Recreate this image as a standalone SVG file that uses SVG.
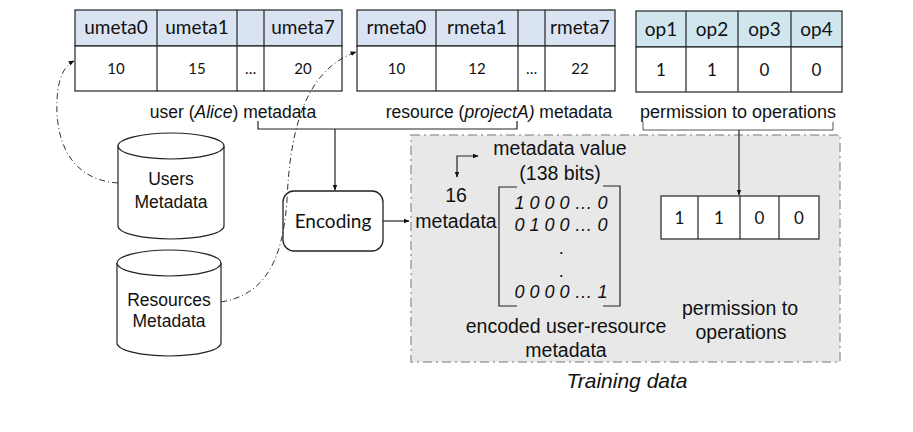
<svg xmlns="http://www.w3.org/2000/svg" width="913" height="432" viewBox="0 0 913 432">
<defs>
<marker id="ah" viewBox="0 0 10 10" refX="9" refY="5" markerWidth="6" markerHeight="6" orient="auto-start-reverse" markerUnits="userSpaceOnUse">
<path d="M0,1 L10,5 L0,9 z" fill="#111"/>
</marker>
</defs>
<style>
.cell{fill:#fff;stroke:#222;stroke-width:1.2}
.hu{fill:#dae3f1;stroke:#222;stroke-width:1.2}
.ho{fill:#cfe6ef;stroke:#222;stroke-width:1.2}
.g{font-family:Lato,"Open Sans",sans-serif;fill:#111;text-anchor:middle}
.s{font-family:"Liberation Sans",Arial,sans-serif;fill:#111;text-anchor:middle}
.ln{fill:none;stroke:#222;stroke-width:1.2}
.dd{fill:none;stroke:#333;stroke-width:1;stroke-dasharray:6 3 1 3}
.cyl{fill:#fff;stroke:#222;stroke-width:1.2}
</style>
<rect width="913" height="432" fill="#fff"/>

<g id="training-box">
<rect x="411" y="135" width="429" height="227" fill="#e8e8e8" stroke="#a0a0a0" stroke-width="1.5" stroke-dasharray="9 4 2 4"/>
<text class="s" x="627" y="388" font-size="21" font-style="italic">Training data</text>
</g>

<g id="user-table">
<rect class="hu" x="75" y="10" width="267" height="36"/>
<rect class="cell" x="75" y="46" width="267" height="45"/>
<line class="ln" x1="157" y1="10" x2="157" y2="91"/>
<line class="ln" x1="237" y1="10" x2="237" y2="91"/>
<line class="ln" x1="264" y1="10" x2="264" y2="91"/>
<text class="g" x="116" y="34" font-size="19">umeta0</text>
<text class="g" x="197" y="34" font-size="19">umeta1</text>
<text class="g" x="303" y="34" font-size="19">umeta7</text>
<text class="g" x="116" y="74" font-size="15">10</text>
<text class="g" x="197" y="74" font-size="15">15</text>
<text class="g" x="250.5" y="74" font-size="15">…</text>
<text class="g" x="303" y="74" font-size="15">20</text>
<text class="s" x="233" y="118" font-size="17.5">user (<tspan font-style="italic">Alice</tspan>) metadata</text>
</g>

<g id="resource-table">
<rect class="hu" x="357" y="10" width="258" height="36"/>
<rect class="cell" x="357" y="46" width="258" height="45"/>
<line class="ln" x1="436" y1="10" x2="436" y2="91"/>
<line class="ln" x1="518" y1="10" x2="518" y2="91"/>
<line class="ln" x1="545" y1="10" x2="545" y2="91"/>
<text class="g" x="396.5" y="34" font-size="19">rmeta0</text>
<text class="g" x="477" y="34" font-size="19">rmeta1</text>
<text class="g" x="580" y="34" font-size="19">rmeta7</text>
<text class="g" x="396.5" y="74" font-size="15">10</text>
<text class="g" x="477" y="74" font-size="15">12</text>
<text class="g" x="531.5" y="74" font-size="15">…</text>
<text class="g" x="580" y="74" font-size="15">22</text>
<text class="s" x="499" y="118" font-size="17.5">resource (<tspan font-style="italic">projectA)</tspan> metadata</text>
</g>

<g id="ops-table">
<rect class="ho" x="636" y="11" width="206" height="36"/>
<rect class="cell" x="636" y="47" width="206" height="45"/>
<line class="ln" x1="686" y1="11" x2="686" y2="92"/>
<line class="ln" x1="738" y1="11" x2="738" y2="92"/>
<line class="ln" x1="791" y1="11" x2="791" y2="92"/>
<text class="g" x="661" y="36" font-size="19">op1</text>
<text class="g" x="712" y="36" font-size="19">op2</text>
<text class="g" x="764.5" y="36" font-size="19">op3</text>
<text class="g" x="816.5" y="36" font-size="19">op4</text>
<text class="g" x="661" y="76" font-size="17">1</text>
<text class="g" x="712" y="76" font-size="17">1</text>
<text class="g" x="764.5" y="76" font-size="17">0</text>
<text class="g" x="816.5" y="76" font-size="17">0</text>
<text class="s" x="738" y="118" font-size="18">permission to operations</text>
</g>

<g id="users-metadata">
<path class="cyl" d="M118,146 L118,226 A53,13 0 0 0 224,226 L224,146 A53,13 0 0 0 118,146 Z"/>
<path class="cyl" d="M118,146 A53,13 0 0 0 224,146"/>
<text class="s" x="171" y="185" font-size="17.5">Users</text>
<text class="s" x="171" y="208" font-size="17.5">Metadata</text>
</g>

<g id="resources-metadata">
<path class="cyl" d="M117,263 L117,343 A52,13 0 0 0 221,343 L221,263 A52,13 0 0 0 117,263 Z"/>
<path class="cyl" d="M117,263 A52,13 0 0 0 221,263"/>
<text class="s" x="169" y="306" font-size="17.5">Resources</text>
<text class="s" x="169" y="327" font-size="17.5">Metadata</text>
</g>

<g id="encoding">
<rect x="283" y="191" width="100" height="60" rx="11" fill="#fff" stroke="#222" stroke-width="1.3"/>
<text class="g" x="333" y="228" font-size="19">Encoding</text>
</g>

<g id="encoded-matrix">
<text class="s" x="560" y="155" font-size="19.5">metadata value</text>
<text class="s" x="560" y="180" font-size="19.5">(138 bits)</text>
<text class="s" x="456" y="202" font-size="19.5">16</text>
<text class="s" x="456" y="228" font-size="19.5">metadata</text>
<path class="ln" d="M517,187 L499,187 L499,306 L517,306"/>
<path class="ln" d="M603,186 L620,186 L620,306 L603,306"/>
<g class="s" font-size="18" font-style="italic">
<text x="561" y="209">1 0 0 0 … 0</text>
<text x="561" y="231">0 1 0 0 … 0</text>
<text x="562" y="254">.</text>
<text x="562" y="277">.</text>
<text x="561" y="298">0 0 0 0 … 1</text>
</g>
<text class="s" x="566" y="333" font-size="19.5">encoded user-resource</text>
<text class="s" x="566" y="357" font-size="19.5">metadata</text>
</g>

<g id="permission-vector">
<rect class="cell" x="661" y="196" width="158" height="43"/>
<line class="ln" x1="698" y1="196" x2="698" y2="239"/>
<line class="ln" x1="740" y1="196" x2="740" y2="239"/>
<line class="ln" x1="779" y1="196" x2="779" y2="239"/>
<text class="g" x="679.5" y="224" font-size="17">1</text>
<text class="g" x="719" y="224" font-size="17">1</text>
<text class="g" x="759.5" y="224" font-size="17">0</text>
<text class="g" x="799" y="224" font-size="17">0</text>
<text class="s" x="740" y="315" font-size="19.5">permission to</text>
<text class="s" x="741" y="339" font-size="19.5">operations</text>
</g>

<g id="connectors">
<path class="ln" d="M258,121 L258,129 L517,129 L517,121"/>
<line class="ln" x1="335" y1="129" x2="335" y2="190" marker-end="url(#ah)"/>
<path d="M643,122 L643,130 L833,130 L833,122" fill="none" stroke="#555" stroke-width="1"/>
<line class="ln" x1="739" y1="130" x2="739" y2="195" marker-end="url(#ah)"/>
<line class="ln" x1="383" y1="221" x2="409" y2="221" marker-end="url(#ah)"/>
<path class="ln" d="M457,177 L457,156 L478,156" marker-start="url(#ah)" marker-end="url(#ah)"/>
<path class="dd" d="M118,183 C70,180 55,140 57,100 C58,78 64,66 74,61" marker-end="url(#ah)"/>
<path class="dd" d="M221,302 C265,295 283,260 287,200 C290,130 305,70 356,52" marker-end="url(#ah)"/>
</g>
</svg>
